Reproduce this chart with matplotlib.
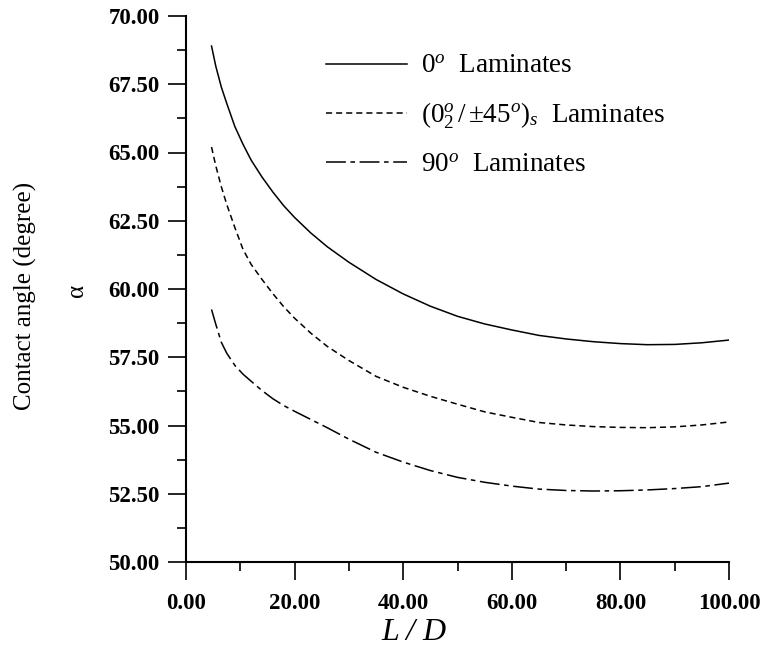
import matplotlib
matplotlib.use("Agg")
import matplotlib.pyplot as plt
from matplotlib.ticker import MultipleLocator, FormatStrFormatter

plt.rcParams['font.family'] = ['Liberation Serif', 'DejaVu Serif']
plt.rcParams['mathtext.fontset'] = 'custom'
plt.rcParams['mathtext.rm'] = 'Liberation Serif'
plt.rcParams['mathtext.it'] = 'Liberation Serif:italic'
plt.rcParams['mathtext.bf'] = 'Liberation Serif:bold'

# ---- data ----
ld = [4.7, 5.5, 6.5, 7.5, 9, 10.5, 12, 14, 16, 18, 20, 23, 26, 30, 35, 40, 45,
      50, 55, 60, 65, 70, 75, 80, 85, 90, 95, 100]
alpha_0 = [68.9, 68.15, 67.4, 66.8, 65.95, 65.3, 64.72, 64.1, 63.55, 63.05, 62.62,
           62.05, 61.55, 60.98, 60.35, 59.82, 59.37, 59.0, 58.72, 58.5, 58.3, 58.17,
           58.07, 58.0, 57.96, 57.97, 58.03, 58.13]
alpha_045 = [65.2, 64.5, 63.75, 63.1, 62.25, 61.45, 60.9, 60.35, 59.83, 59.35, 58.93,
             58.38, 57.9, 57.38, 56.8, 56.4, 56.07, 55.78, 55.5, 55.3, 55.11, 55.02,
             54.96, 54.93, 54.92, 54.95, 55.02, 55.13]
alpha_90 = [59.25, 58.7, 58.05, 57.65, 57.2, 56.88, 56.62, 56.28, 55.98, 55.73, 55.52,
            55.22, 54.92, 54.5, 54.02, 53.66, 53.35, 53.1, 52.92, 52.78, 52.67, 52.62,
            52.6, 52.61, 52.64, 52.69, 52.76, 52.89]
labels = [r"$0^o$  Laminates",
          r"$(0^o_2\,/\,{\pm}45^o)_s$  Laminates",
          r"$90^o$  Laminates"]
x_ticks = [0, 20, 40, 60, 80, 100]
y_ticks = [50, 52.5, 55, 57.5, 60, 62.5, 65, 67.5, 70]

fig = plt.figure(figsize=(7.63, 6.51), dpi=100)
ax = fig.add_axes([186/763, 1-562/651, 543/763, 546/651])

ax.plot(ld, alpha_0, color='black', lw=1.1, linestyle='-', label=labels[0])
ax.plot(ld, alpha_045, color='black', lw=1.1, linestyle=(0, (4, 2.6)), label=labels[1])
ax.plot(ld, alpha_90, color='black', lw=1.1, linestyle=(0, (13, 3, 3, 3)), label=labels[2])

ax.set_xlim(0, 100)
ax.set_ylim(50, 70)
ax.set_xticks(x_ticks)
ax.set_yticks(y_ticks)
ax.xaxis.set_minor_locator(MultipleLocator(10))
ax.yaxis.set_minor_locator(MultipleLocator(1.25))
ax.xaxis.set_major_formatter(FormatStrFormatter('%.2f'))
ax.yaxis.set_major_formatter(FormatStrFormatter('%.2f'))

for s in ['top', 'right']:
    ax.spines[s].set_visible(False)
for s in ['left', 'bottom']:
    ax.spines[s].set_linewidth(1.5)

ax.tick_params(which='major', direction='out', length=13, width=1.2)
ax.tick_params(which='minor', direction='out', length=6.5, width=1.2)
ax.tick_params(axis='y', which='major', pad=6)
ax.tick_params(axis='x', which='major', pad=9)
for lab in ax.get_xticklabels() + ax.get_yticklabels():
    lab.set_fontsize(16.5)
    lab.set_fontweight('bold')

ax.set_ylabel("Contact angle (degree)", fontsize=18, va='center')
ax.yaxis.set_label_coords((25-186)/543, 1-(296-16)/546)
ax.text((77-186)/543, 1-(290-16)/546, "α", fontsize=18, rotation=90,
        ha='center', va='center', transform=ax.transAxes)

ax.set_xlabel("L / D", fontsize=23, style='italic', va='center')
ax.xaxis.set_label_coords((414-186)/543, 1-(633-16)/546)

leg = ax.legend(loc='upper left', bbox_to_anchor=((326-186)/543, 1-(54-16)/546),
                frameon=False, fontsize=19.5, handlelength=3.0, handletextpad=0.5,
                labelspacing=0.8, borderpad=0, borderaxespad=0)

fig.savefig("out.png", dpi=100)
